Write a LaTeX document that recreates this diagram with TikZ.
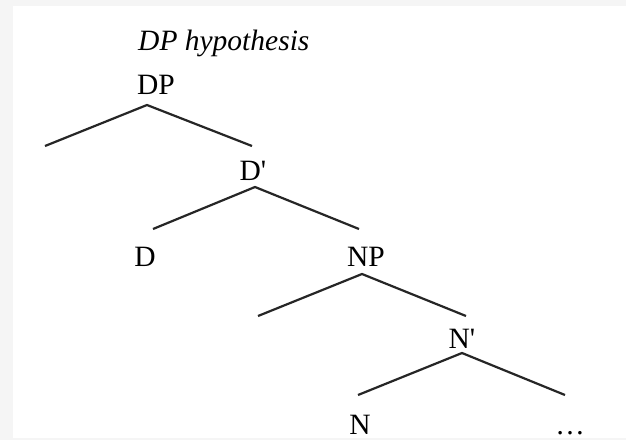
\documentclass[tikz,border=0pt]{standalone}
\usepackage{fontspec}
\setmainfont{Liberation Serif}
\begin{document}
\begin{tikzpicture}[x=1pt,y=-1pt,
  lbl/.style={font=\fontsize{29.5}{32}\selectfont, inner sep=0pt, anchor=base},
  branch/.style={draw=black!85, line width=2.2pt}]
\useasboundingbox (0,0) rectangle (626,440);
\fill[black!4] (0,0) rectangle (626,440);
\fill[white] (13,6) rectangle (626,438);
% labels
\node[lbl, anchor=base west] (title) at (138,50) {\itshape DP hypothesis};
\node[lbl] (dp) at (156,94) {DP};
\node[lbl] (dbar) at (253,180) {D\textquotesingle};
\node[lbl] (d) at (145,266) {D};
\node[lbl] (np) at (366,266) {NP};
\node[lbl] (nbar) at (462,348) {N\textquotesingle};
\node[lbl] (n) at (360,434) {N};
\node[lbl] (dots) at (570,434) {\dots};
% branch points
\coordinate (dpA) at (147,105);
\coordinate (dpL) at (45,146);
\coordinate (dpR) at (252,146);
\coordinate (dbarA) at (255,187);
\coordinate (dbarL) at (153,229);
\coordinate (dbarR) at (359,229);
\coordinate (npA) at (362,274);
\coordinate (npL) at (258,316);
\coordinate (npR) at (466,316);
\coordinate (nbarA) at (462,353);
\coordinate (nbarL) at (358,395);
\coordinate (nbarR) at (565,395);
\draw[branch] (dpL) -- (dpA) -- (dpR);
\draw[branch] (dbarL) -- (dbarA) -- (dbarR);
\draw[branch] (npL) -- (npA) -- (npR);
\draw[branch] (nbarL) -- (nbarA) -- (nbarR);
\end{tikzpicture}
\end{document}
